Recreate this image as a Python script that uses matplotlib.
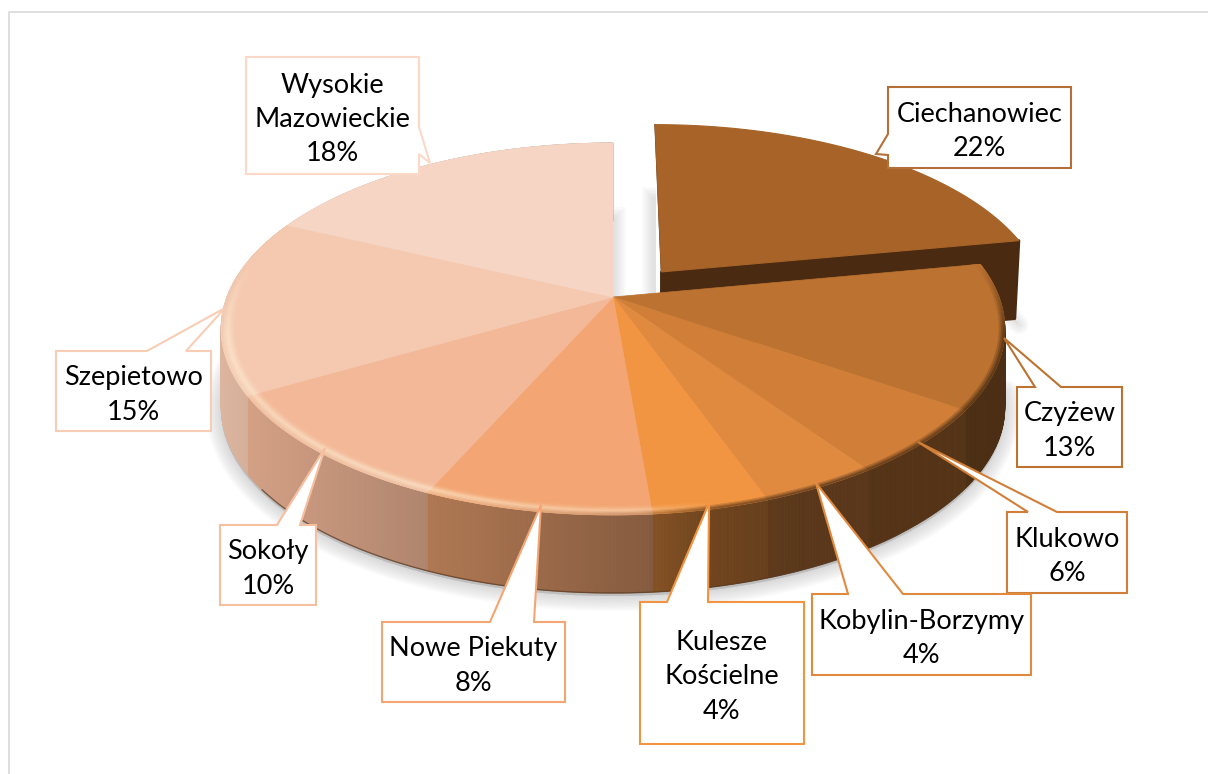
import numpy as np
import matplotlib
matplotlib.use("Agg")
import matplotlib.pyplot as plt
from matplotlib.collections import PolyCollection
from matplotlib.patches import Polygon, Rectangle
from matplotlib.colors import to_rgb

plt.rcParams['font.family'] = ['Lato', 'DejaVu Sans']

# slices clockwise from 12 o'clock, shares
names = ["Ciechanowiec", "Czyżew", "Klukowo", "Kobylin-Borzymy", "Kulesze\nKościelne",
         "Nowe Piekuty", "Sokoły", "Szepietowo", "Wysokie\nMazowieckie"]
shares = [22.0, 12.6, 5.8, 4.15, 4.1, 8.0, 10.0, 15.35, 18.0]
colors = ["#A76328", "#BC7230", "#D17F38", "#E08A40", "#F29542",
          "#F3A673", "#F3B898", "#F5C9B0", "#F6D5C5"]
border_colors = ["#B5703A", "#BC7230", "#D17F38", "#E08A40", "#F29542",
                 "#F3A673", "#F6BFA0", "#F8CDB5", "#FBD8C8"]

# callouts: box x0, y0, x1, y1 / wedge base two points / tip
boxes = [(888, 87, 1071, 168), (1017, 387, 1122, 467), (1007, 512, 1127, 593),
         (812, 594, 1031, 675), (640, 602, 804, 744), (382, 622, 565, 702),
         (220, 525, 316, 605), (56, 351, 211, 431), (246, 57, 419, 174)]
bases = [((888, 134), (888, 155)), ((1035, 387), (1061, 387)), ((1028, 512), (1057, 512)),
         ((848, 594), (903, 594)), ((667, 602), (708, 602)), ((490, 622), (534, 622)),
         ((277, 525), (300, 525)), ((147, 351), (186, 351)), ((419, 127), (419, 154))]
tips = [(876, 154), (1004, 338), (918, 442), (816, 483), (709, 503), (541, 505),
        (325, 448), (225, 308), (430, 163)]

# pie geometry in pixels
CX, CY = 613, 297
A, B, P = 386, 180.5, 0.172
DEPTH = 78
EXPLODE = 0.185
EXPLODE_SHIFT = 4


def project(theta, r=1.0, ox=0.0, oy=0.0):
    X = r * np.sin(theta) + ox
    Y = -r * np.cos(theta) + oy
    d = 1 - P * Y
    return CX + A * X / d, CY + B * Y / d


def wall_shade(x):
    return np.interp(x, [222, 260, 430, 650, 700, 800, 1010],
                     [0.90, 0.86, 0.72, 0.55, 0.47, 0.40, 0.40])


def soft_shadow(ax, pts, width=22, alpha=0.025):
    for w in range(width, 0, -2):
        ax.add_patch(Polygon(pts, closed=True, fc="#707070", ec="#707070", lw=w,
                             alpha=alpha, joinstyle="round", zorder=2))


fig = plt.figure(figsize=(12.08, 7.74), dpi=100)
ax = fig.add_axes([0, 0, 1, 1])
ax.set_xlim(0, 1208)
ax.set_ylim(774, 0)
ax.axis("off")

# chart frame, only top and left are in the crop
ax.plot([8.5, 8.5, 1208], [774, 11.5, 11.5], color="#D9D9D9", lw=1.2, zorder=1)

edges = np.radians(np.concatenate([[0], np.cumsum(shares)]) * 3.6)
ox = EXPLODE * np.sin((edges[0] + edges[1]) / 2)
oy = -EXPLODE * np.cos((edges[0] + edges[1]) / 2)

# shadows
t = np.linspace(np.radians(95), np.radians(285), 200)
sx, sy = project(t)
soft_shadow(ax, np.column_stack([sx, sy + DEPTH + 3]))
t = np.linspace(np.radians(68), edges[1], 30)
sx, sy = project(t, 1.0, ox, oy)
soft_shadow(ax, np.column_stack([sx + EXPLODE_SHIFT, sy + DEPTH + 6]), width=14)
for i in range(6):
    ax.add_patch(Rectangle((613, 207 + i * 2), 13 - 2 * i, 90, fc="#808080", alpha=0.04, ec="none", zorder=2))
    ax.add_patch(Rectangle((656 - 14 + 2 * i, 187 + i * 2), 14 - 2 * i, 110, fc="#808080", alpha=0.04, ec="none", zorder=2))

# exploded slice
dark = "#4A2B12"
t = np.linspace(edges[0], edges[1], 100)
ex, ey = project(t, 1.0, ox, oy)
ex = ex + EXPLODE_SHIFT
ax0, ay0 = project(np.array([0.0]), 0.0, ox, oy)
ax0 = ax0 + EXPLODE_SHIFT
shrink = CX + (ex - CX) * 0.99
# wall starts just under the arc so nothing dark shows above the top face
wall = np.column_stack([ex - 3, ey + 3])[60:]
wall_low = np.column_stack([shrink, ey + DEPTH])[60:]
ax.add_patch(Polygon(np.vstack([wall, wall_low[::-1]]), fc=dark, ec=dark, lw=1, joinstyle="round", zorder=3))
ax.add_patch(Polygon([(ax0[0], ay0[0]), (ex[-1], ey[-1]), (shrink[-1], ey[-1] + DEPTH), (ax0[0], ay0[0] + DEPTH)],
                     fc=dark, ec=dark, lw=2, joinstyle="round", zorder=3))
ax.plot([ex[0], ax0[0]], [ey[0], ay0[0]], color=dark, lw=1.0, zorder=3)
ax.add_patch(Polygon(np.vstack([[ax0[0], ay0[0]], np.column_stack([ex, ey])]),
                     fc=colors[0], ec=colors[0], lw=0.8, zorder=4))

# main body walls
wall_quads, wall_cols = [], []
for i in range(1, len(shares)):
    t = np.linspace(edges[i], edges[i + 1], max(int(shares[i] * 8), 4) + 1)
    px, py = project(t)
    base = np.array(to_rgb(colors[i]))
    for k in range(len(t) - 1):
        wall_quads.append([(px[k], py[k]), (px[k + 1], py[k + 1]),
                           (px[k + 1], py[k + 1] + DEPTH), (px[k], py[k] + DEPTH)])
        wall_cols.append(np.clip(base * wall_shade((px[k] + px[k + 1]) / 2), 0, 1))
ax.add_collection(PolyCollection(wall_quads, facecolors=wall_cols, edgecolors=wall_cols, linewidths=0.6, zorder=5))

# dark contact line under the wall
t = np.linspace(np.radians(140), np.radians(235), 120)
px, py = project(t)
ax.plot(px, py + DEPTH, color="#5A3A22", lw=1.0, alpha=0.7, zorder=5)

# main body top
for i in range(1, len(shares)):
    t = np.linspace(edges[i], edges[i + 1], 80)
    px, py = project(t)
    ax.add_patch(Polygon(np.vstack([[CX, CY], np.column_stack([px, py])]),
                         fc=colors[i], ec=colors[i], lw=0.5, zorder=6))

# bevel on the rim: cream on the left, blurred into the wall on the right, none at the back
radii = np.linspace(0.962, 1.0, 9)
profile = np.array([0.05, 0.2, 0.45, 0.75, 1.0, 0.9, 0.7, 0.5])
rim_quads, rim_cols = [], []
for i in range(1, len(shares)):
    t = np.linspace(edges[i], edges[i + 1], max(int(shares[i] * 8), 4) + 1)
    base = np.array(to_rgb(colors[i]))
    for k in range(len(t) - 1):
        tm = (t[k] + t[k + 1]) / 2
        xm, _ = project(np.array([tm]))
        front = np.clip((-np.cos(tm) + 0.2) / 0.4, 0, 1)
        light = np.interp(xm[0], [222, 430, 640, 720, 1010], [0.5, 0.55, 0.35, 0.0, 0.0]) * front
        shade = base * wall_shade(xm[0])
        for j in range(len(profile)):
            x0, y0 = project(t[k:k + 2], radii[j])
            x1, y1 = project(t[k:k + 2], radii[j + 1])
            rim_quads.append([(x0[0], y0[0]), (x0[1], y0[1]), (x1[1], y1[1]), (x1[0], y1[0])])
            c = base + (np.array([1.0, 0.96, 0.86]) - base) * light * profile[j]
            # outer layers fade towards the wall colour, mostly on the dark side
            fade = max(0.0, (j - 4) / 3) * 0.8 * (1 - light / 0.6) * front
            rim_cols.append(np.clip(c + (shade - c) * fade, 0, 1))
ax.add_collection(PolyCollection(rim_quads, facecolors=rim_cols, edgecolors=rim_cols, linewidths=0.4, zorder=7))

# callouts
for name, value, col, box, base, tip in zip(names, shares, border_colors, boxes, bases, tips):
    x0, y0, x1, y1 = box
    if base[0][0] == x0 and base[1][0] == x0:      # wedge on left edge
        outline = [(x0, y0), (x1, y0), (x1, y1), (x0, y1), base[1], tip, base[0]]
    elif base[0][0] == x1 and base[1][0] == x1:    # wedge on right edge
        outline = [(x0, y0), (x1, y0), base[0], tip, base[1], (x1, y1), (x0, y1)]
    else:                                          # wedge on top edge
        outline = [(x0, y0), base[0], tip, base[1], (x1, y0), (x1, y1), (x0, y1)]
    ax.add_patch(Polygon(outline, closed=True, fc="white", ec=col, lw=1.5, joinstyle="miter", zorder=8))
    ax.text((x0 + x1) / 2, (y0 + y1) / 2 + 4, f"{name}\n{round(value)}%", ha="center", va="center",
            fontsize=19.5, color="black", linespacing=1.47, zorder=9)

plt.savefig("out.png", dpi=100)
plt.close()
